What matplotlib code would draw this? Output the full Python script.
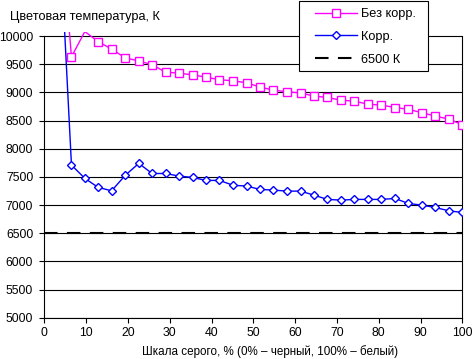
import matplotlib
matplotlib.use("Agg")
import matplotlib.pyplot as plt
from matplotlib.patches import Rectangle

plt.rcParams['font.family'] = ['Liberation Sans', 'DejaVu Sans']
plt.rcParams['font.size'] = 8.8

# gray level, %
x = [0, 3.2, 6.5, 9.7, 12.9, 16.1, 19.4, 22.6, 25.8, 29.0, 32.3, 35.5, 38.7, 41.9, 45.2, 48.4,
     51.6, 54.8, 58.1, 61.3, 64.5, 67.7, 71.0, 74.2, 77.4, 80.6, 83.9, 87.1, 90.3, 93.5, 96.8, 100]
# colour temperature, K
bez_korr = [15000, 12600, 9630, 10080, 9900, 9770, 9610, 9560, 9490, 9360, 9340, 9310, 9270, 9225,
            9205, 9170, 9095, 9040, 9010, 8990, 8935, 8910, 8860, 8845, 8790, 8775, 8730, 8700,
            8640, 8580, 8525, 8425]
korr = [14000, 12500, 7710, 7473, 7313, 7253, 7530, 7739, 7560, 7560, 7513, 7490, 7437, 7437,
        7350, 7337, 7277, 7265, 7247, 7247, 7176, 7100, 7087, 7100, 7100, 7100, 7117, 7028,
        6998, 6957, 6897, 6868]
ref_k = 6500
yticks = [5000, 5500, 6000, 6500, 7000, 7500, 8000, 8500, 9000, 9500, 10000]
xticks = [0, 10, 20, 30, 40, 50, 60, 70, 80, 90, 100]

W, H = 472, 359
fig = plt.figure(figsize=(W / 100, H / 100), dpi=100)
ax = fig.add_axes([44.3 / W, 1 - 317.7 / H, 418 / W, 285.6 / H])

ymax = 10070
# markers only where the point is inside the chart
m1 = [i for i, v in enumerate(bez_korr) if v <= 10000]
m2 = [i for i, v in enumerate(korr) if v <= 10000]

l1, = ax.plot(x, bez_korr, color='#FF00FF', lw=1, marker='s', ms=5.5, mfc='white',
              mec='#FF00FF', mew=1, markevery=m1, zorder=4)
l2, = ax.plot(x, korr, color='#0000FF', lw=1, marker='D', ms=3.9, mfc='white',
              mec='#0000FF', mew=1, markevery=m2, zorder=4)
l3, = ax.plot([0, 100], [ref_k, ref_k], color='black', lw=1.5, dashes=(6.5, 4.5), zorder=3)

ax.set_xlim(0, 100)
ax.set_ylim(5000, ymax)
ax.set_xticks(xticks)
ax.set_yticks(yticks)
ax.yaxis.grid(True, color='black', lw=0.8)
ax.set_axisbelow(True)
ax.tick_params(axis='both', direction='out', length=3.5, width=0.8, color='black')
ax.tick_params(axis='y', pad=4.5)
ax.tick_params(axis='x', pad=3)
ax.spines['top'].set_visible(False)
for s in ['left', 'right', 'bottom']:
    ax.spines[s].set_linewidth(0.8)
ax.spines['left'].set_bounds(5000, 10000)
ax.spines['right'].set_bounds(5000, 10000)

fig.text(10 / W, 1 - 20 / H, 'Цветовая температура, К', ha='left', va='baseline', fontsize=9.2)
fig.text(270.5 / W, 1 - 355 / H, 'Шкала серого, % (0% – черный, 100% – белый)',
         ha='center', va='baseline', fontsize=8.4)

# legend box
rect = Rectangle((299.3 / W, 1 - 71 / H), 129 / W, 70 / H, transform=fig.transFigure,
                 facecolor='white', edgecolor='black', lw=0.8, zorder=5)
fig.patches.append(rect)
leg = fig.legend([l1, l2, l3], ['Без корр.', 'Корр.', '6500 К'], loc='upper left',
                 bbox_to_anchor=(315 / W, 1 - 8 / H), bbox_transform=fig.transFigure,
                 frameon=False, borderpad=0, borderaxespad=0, handlelength=3.3,
                 handletextpad=0.3, labelspacing=0.85, fontsize=9.2)
leg.set_zorder(6)

fig.savefig('out.png', dpi=100)
